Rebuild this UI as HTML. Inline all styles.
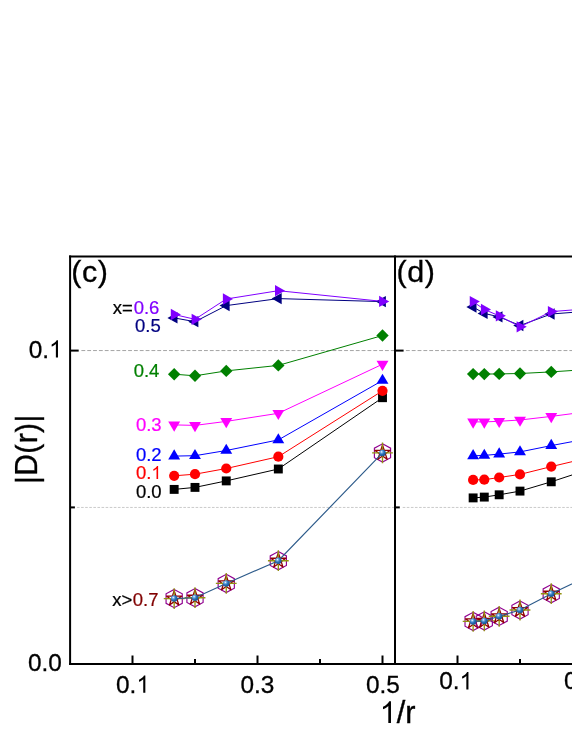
<!DOCTYPE html>
<html><head><meta charset="utf-8"><title>chart</title>
<style>html,body{margin:0;padding:0;background:#fff;}svg{display:block;will-change:transform;}text{font-family:"Liberation Sans",sans-serif;}</style>
</head><body>
<svg width="572" height="740" viewBox="0 0 572 740">
<defs>
<radialGradient id="sg" cx="0.36" cy="0.34" r="0.75"><stop offset="0" stop-color="#ffffff"/><stop offset="0.2" stop-color="#7db6ea"/><stop offset="0.5" stop-color="#2b73ba"/><stop offset="1" stop-color="#134a86"/></radialGradient>
<clipPath id="clip"><rect x="0" y="0" width="572" height="740"/></clipPath>
</defs>
<rect width="572" height="740" fill="#ffffff"/>
<path d="M81.4 350.55H394M405.9 350.55H572" stroke="#a0a0a0" stroke-width="0.95" stroke-dasharray="3.85 1.988" fill="none"/>
<path d="M77 507.45H394M402.7 507.45H572" stroke="#c4c4c4" stroke-width="0.9" stroke-dasharray="2.6 1.49" fill="none"/>
<polyline points="174.17,489.4 195,487.4 226.25,480.9 278.33,469 382.5,397.7" fill="none" stroke="#000000" stroke-width="1"/>
<rect x="169.72" y="484.95" width="8.9" height="8.9" fill="#000000"/>
<rect x="190.55" y="482.95" width="8.9" height="8.9" fill="#000000"/>
<rect x="221.8" y="476.45" width="8.9" height="8.9" fill="#000000"/>
<rect x="273.88" y="464.55" width="8.9" height="8.9" fill="#000000"/>
<rect x="378.05" y="393.25" width="8.9" height="8.9" fill="#000000"/>
<polyline points="473.12,497.9 484.29,497.1 499.17,494.8 520,491.1 551.25,481.8 603.33,464.7" fill="none" stroke="#000000" stroke-width="1"/>
<rect x="468.68" y="493.45" width="8.9" height="8.9" fill="#000000"/>
<rect x="479.84" y="492.65" width="8.9" height="8.9" fill="#000000"/>
<rect x="494.72" y="490.35" width="8.9" height="8.9" fill="#000000"/>
<rect x="515.55" y="486.65" width="8.9" height="8.9" fill="#000000"/>
<rect x="546.8" y="477.35" width="8.9" height="8.9" fill="#000000"/>
<rect x="598.88" y="460.25" width="8.9" height="8.9" fill="#000000"/>
<polyline points="174.17,475.8 195,474.2 226.25,468.5 278.33,456.7 382.5,390.8" fill="none" stroke="#ff0000" stroke-width="1"/>
<circle cx="174.17" cy="475.8" r="5.1" fill="#ff0000"/>
<circle cx="195" cy="474.2" r="5.1" fill="#ff0000"/>
<circle cx="226.25" cy="468.5" r="5.1" fill="#ff0000"/>
<circle cx="278.33" cy="456.7" r="5.1" fill="#ff0000"/>
<circle cx="382.5" cy="390.8" r="5.1" fill="#ff0000"/>
<polyline points="473.12,479.9 484.29,479.7 499.17,477.5 520,474.4 551.25,466.6 603.33,454.3" fill="none" stroke="#ff0000" stroke-width="1"/>
<circle cx="473.12" cy="479.9" r="5.1" fill="#ff0000"/>
<circle cx="484.29" cy="479.7" r="5.1" fill="#ff0000"/>
<circle cx="499.17" cy="477.5" r="5.1" fill="#ff0000"/>
<circle cx="520" cy="474.4" r="5.1" fill="#ff0000"/>
<circle cx="551.25" cy="466.6" r="5.1" fill="#ff0000"/>
<circle cx="603.33" cy="454.3" r="5.1" fill="#ff0000"/>
<polyline points="174.17,456.1 195,455.7 226.25,450.5 278.33,439.9 382.5,380.5" fill="none" stroke="#0000ff" stroke-width="1"/>
<polygon points="174.17,449.37 168.22,459.47 180.12,459.47" fill="#0000ff"/>
<polygon points="195,448.97 189.05,459.07 200.95,459.07" fill="#0000ff"/>
<polygon points="226.25,443.77 220.3,453.87 232.2,453.87" fill="#0000ff"/>
<polygon points="278.33,433.17 272.38,443.27 284.28,443.27" fill="#0000ff"/>
<polygon points="382.5,373.77 376.55,383.87 388.45,383.87" fill="#0000ff"/>
<polyline points="473.12,455.8 484.29,455.4 499.17,454.1 520,451.9 551.25,445.6 603.33,435.8" fill="none" stroke="#0000ff" stroke-width="1"/>
<polygon points="473.12,449.07 467.18,459.17 479.07,459.17" fill="#0000ff"/>
<polygon points="484.29,448.67 478.34,458.77 490.24,458.77" fill="#0000ff"/>
<polygon points="499.17,447.37 493.22,457.47 505.12,457.47" fill="#0000ff"/>
<polygon points="520,445.17 514.05,455.27 525.95,455.27" fill="#0000ff"/>
<polygon points="551.25,438.87 545.3,448.97 557.2,448.97" fill="#0000ff"/>
<polygon points="603.33,429.07 597.38,439.17 609.28,439.17" fill="#0000ff"/>
<polyline points="174.17,424.9 195,425.4 226.25,421.4 278.33,413.3 382.5,364.2" fill="none" stroke="#ff00ff" stroke-width="1"/>
<polygon points="174.17,431.63 168.22,421.53 180.12,421.53" fill="#ff00ff"/>
<polygon points="195,432.13 189.05,422.03 200.95,422.03" fill="#ff00ff"/>
<polygon points="226.25,428.13 220.3,418.03 232.2,418.03" fill="#ff00ff"/>
<polygon points="278.33,420.03 272.38,409.93 284.28,409.93" fill="#ff00ff"/>
<polygon points="382.5,370.93 376.55,360.83 388.45,360.83" fill="#ff00ff"/>
<polyline points="473.12,421.9 484.29,421.9 499.17,421.3 520,420 551.25,416.4 603.33,409.6" fill="none" stroke="#ff00ff" stroke-width="1"/>
<polygon points="473.12,428.63 467.18,418.53 479.07,418.53" fill="#ff00ff"/>
<polygon points="484.29,428.63 478.34,418.53 490.24,418.53" fill="#ff00ff"/>
<polygon points="499.17,428.03 493.22,417.93 505.12,417.93" fill="#ff00ff"/>
<polygon points="520,426.73 514.05,416.63 525.95,416.63" fill="#ff00ff"/>
<polygon points="551.25,423.13 545.3,413.03 557.2,413.03" fill="#ff00ff"/>
<polygon points="603.33,416.33 597.38,406.23 609.28,406.23" fill="#ff00ff"/>
<polyline points="174.17,374.2 195,375.8 226.25,370.9 278.33,365.4 382.5,335.5" fill="none" stroke="#008000" stroke-width="1"/>
<polygon points="174.17,368 180.37,374.2 174.17,380.4 167.97,374.2" fill="#008000"/>
<polygon points="195,369.6 201.2,375.8 195,382 188.8,375.8" fill="#008000"/>
<polygon points="226.25,364.7 232.45,370.9 226.25,377.1 220.05,370.9" fill="#008000"/>
<polygon points="278.33,359.2 284.53,365.4 278.33,371.6 272.13,365.4" fill="#008000"/>
<polygon points="382.5,329.3 388.7,335.5 382.5,341.7 376.3,335.5" fill="#008000"/>
<polyline points="473.12,374.1 484.29,374.1 499.17,373.9 520,373.5 551.25,371.9 603.33,368.4" fill="none" stroke="#008000" stroke-width="1"/>
<polygon points="473.12,367.9 479.32,374.1 473.12,380.3 466.93,374.1" fill="#008000"/>
<polygon points="484.29,367.9 490.49,374.1 484.29,380.3 478.09,374.1" fill="#008000"/>
<polygon points="499.17,367.7 505.37,373.9 499.17,380.1 492.97,373.9" fill="#008000"/>
<polygon points="520,367.3 526.2,373.5 520,379.7 513.8,373.5" fill="#008000"/>
<polygon points="551.25,365.7 557.45,371.9 551.25,378.1 545.05,371.9" fill="#008000"/>
<polygon points="603.33,362.2 609.53,368.4 603.33,374.6 597.13,368.4" fill="#008000"/>
<polyline points="174.17,317.9 195,321.7 226.25,305.6 278.33,298.6 382.5,301.6" fill="none" stroke="#000080" stroke-width="1"/>
<polygon points="167.43,317.9 177.53,312.25 177.53,323.55" fill="#000080"/>
<polygon points="188.27,321.7 198.37,316.05 198.37,327.35" fill="#000080"/>
<polygon points="219.52,305.6 229.62,299.95 229.62,311.25" fill="#000080"/>
<polygon points="271.6,298.6 281.7,292.95 281.7,304.25" fill="#000080"/>
<polygon points="375.77,301.6 385.87,295.95 385.87,307.25" fill="#000080"/>
<polyline points="473.12,307.1 484.29,313.4 499.17,316.9 520,325.5 551.25,314 603.33,310" fill="none" stroke="#000080" stroke-width="1"/>
<polygon points="466.39,307.1 476.49,301.45 476.49,312.75" fill="#000080"/>
<polygon points="477.55,313.4 487.65,307.75 487.65,319.05" fill="#000080"/>
<polygon points="492.43,316.9 502.53,311.25 502.53,322.55" fill="#000080"/>
<polygon points="513.27,325.5 523.37,319.85 523.37,331.15" fill="#000080"/>
<polygon points="544.52,314 554.62,308.35 554.62,319.65" fill="#000080"/>
<polygon points="596.6,310 606.7,304.35 606.7,315.65" fill="#000080"/>
<polyline points="174.17,314.5 195,319.3 226.25,299 278.33,290.7 382.5,301.4" fill="none" stroke="#8000ff" stroke-width="1"/>
<polygon points="180.9,314.5 170.8,308.85 170.8,320.15" fill="#8000ff"/>
<polygon points="201.73,319.3 191.63,313.65 191.63,324.95" fill="#8000ff"/>
<polygon points="232.98,299 222.88,293.35 222.88,304.65" fill="#8000ff"/>
<polygon points="285.07,290.7 274.97,285.05 274.97,296.35" fill="#8000ff"/>
<polygon points="389.23,301.4 379.13,295.75 379.13,307.05" fill="#8000ff"/>
<polyline points="473.12,301.6 484.29,309.5 499.17,315.8 520,326.8 551.25,311.6 603.33,307.6" fill="none" stroke="#8000ff" stroke-width="1"/>
<polygon points="479.86,301.6 469.76,295.95 469.76,307.25" fill="#8000ff"/>
<polygon points="491.02,309.5 480.92,303.85 480.92,315.15" fill="#8000ff"/>
<polygon points="505.9,315.8 495.8,310.15 495.8,321.45" fill="#8000ff"/>
<polygon points="526.73,326.8 516.63,321.15 516.63,332.45" fill="#8000ff"/>
<polygon points="557.98,311.6 547.88,305.95 547.88,317.25" fill="#8000ff"/>
<polygon points="610.07,307.6 599.97,301.95 599.97,313.25" fill="#8000ff"/>
<g transform="translate(174.17 598.6)"><polygon points="0,-9.1 8.1,-4.75 8.1,4.75 0,9.1 -8.1,4.75 -8.1,-4.75" fill="none" stroke="#900090" stroke-width="1.15"/><polygon points="0,-7.9 1.77,-2.44 7.51,-2.44 2.87,0.93 4.64,6.39 0,3.02 -4.64,6.39 -2.87,0.93 -7.51,-2.44 -1.77,-2.44" fill="none" stroke="#900000" stroke-width="1.3" stroke-linejoin="round"/><path d="M-10.4 0H10.4M0 -10.4V10.4" stroke="#929210" stroke-width="1.35" fill="none"/></g>
<g transform="translate(195 597.7)"><polygon points="0,-9.1 8.1,-4.75 8.1,4.75 0,9.1 -8.1,4.75 -8.1,-4.75" fill="none" stroke="#900090" stroke-width="1.15"/><polygon points="0,-7.9 1.77,-2.44 7.51,-2.44 2.87,0.93 4.64,6.39 0,3.02 -4.64,6.39 -2.87,0.93 -7.51,-2.44 -1.77,-2.44" fill="none" stroke="#900000" stroke-width="1.3" stroke-linejoin="round"/><path d="M-10.4 0H10.4M0 -10.4V10.4" stroke="#929210" stroke-width="1.35" fill="none"/></g>
<g transform="translate(226.25 583.4)"><polygon points="0,-9.1 8.1,-4.75 8.1,4.75 0,9.1 -8.1,4.75 -8.1,-4.75" fill="none" stroke="#900090" stroke-width="1.15"/><polygon points="0,-7.9 1.77,-2.44 7.51,-2.44 2.87,0.93 4.64,6.39 0,3.02 -4.64,6.39 -2.87,0.93 -7.51,-2.44 -1.77,-2.44" fill="none" stroke="#900000" stroke-width="1.3" stroke-linejoin="round"/><path d="M-10.4 0H10.4M0 -10.4V10.4" stroke="#929210" stroke-width="1.35" fill="none"/></g>
<g transform="translate(278.33 560.7)"><polygon points="0,-9.1 8.1,-4.75 8.1,4.75 0,9.1 -8.1,4.75 -8.1,-4.75" fill="none" stroke="#900090" stroke-width="1.15"/><polygon points="0,-7.9 1.77,-2.44 7.51,-2.44 2.87,0.93 4.64,6.39 0,3.02 -4.64,6.39 -2.87,0.93 -7.51,-2.44 -1.77,-2.44" fill="none" stroke="#900000" stroke-width="1.3" stroke-linejoin="round"/><path d="M-10.4 0H10.4M0 -10.4V10.4" stroke="#929210" stroke-width="1.35" fill="none"/></g>
<g transform="translate(382.5 452.9)"><polygon points="0,-9.1 8.1,-4.75 8.1,4.75 0,9.1 -8.1,4.75 -8.1,-4.75" fill="none" stroke="#900090" stroke-width="1.15"/><polygon points="0,-7.9 1.77,-2.44 7.51,-2.44 2.87,0.93 4.64,6.39 0,3.02 -4.64,6.39 -2.87,0.93 -7.51,-2.44 -1.77,-2.44" fill="none" stroke="#900000" stroke-width="1.3" stroke-linejoin="round"/><path d="M-10.4 0H10.4M0 -10.4V10.4" stroke="#929210" stroke-width="1.35" fill="none"/></g>
<polyline points="174.17,598.6 195,597.7 226.25,583.4 278.33,560.7 382.5,452.9" fill="none" stroke="#2c5a8a" stroke-width="1.15"/>
<circle cx="174.17" cy="598.6" r="3.25" fill="url(#sg)"/>
<circle cx="195" cy="597.7" r="3.25" fill="url(#sg)"/>
<circle cx="226.25" cy="583.4" r="3.25" fill="url(#sg)"/>
<circle cx="278.33" cy="560.7" r="3.25" fill="url(#sg)"/>
<circle cx="382.5" cy="452.9" r="3.25" fill="url(#sg)"/>
<g transform="translate(473.12 621.4)"><polygon points="0,-9.1 8.1,-4.75 8.1,4.75 0,9.1 -8.1,4.75 -8.1,-4.75" fill="none" stroke="#900090" stroke-width="1.15"/><polygon points="0,-7.9 1.77,-2.44 7.51,-2.44 2.87,0.93 4.64,6.39 0,3.02 -4.64,6.39 -2.87,0.93 -7.51,-2.44 -1.77,-2.44" fill="none" stroke="#900000" stroke-width="1.3" stroke-linejoin="round"/><path d="M-10.4 0H10.4M0 -10.4V10.4" stroke="#929210" stroke-width="1.35" fill="none"/></g>
<g transform="translate(484.29 620.9)"><polygon points="0,-9.1 8.1,-4.75 8.1,4.75 0,9.1 -8.1,4.75 -8.1,-4.75" fill="none" stroke="#900090" stroke-width="1.15"/><polygon points="0,-7.9 1.77,-2.44 7.51,-2.44 2.87,0.93 4.64,6.39 0,3.02 -4.64,6.39 -2.87,0.93 -7.51,-2.44 -1.77,-2.44" fill="none" stroke="#900000" stroke-width="1.3" stroke-linejoin="round"/><path d="M-10.4 0H10.4M0 -10.4V10.4" stroke="#929210" stroke-width="1.35" fill="none"/></g>
<g transform="translate(499.17 616.3)"><polygon points="0,-9.1 8.1,-4.75 8.1,4.75 0,9.1 -8.1,4.75 -8.1,-4.75" fill="none" stroke="#900090" stroke-width="1.15"/><polygon points="0,-7.9 1.77,-2.44 7.51,-2.44 2.87,0.93 4.64,6.39 0,3.02 -4.64,6.39 -2.87,0.93 -7.51,-2.44 -1.77,-2.44" fill="none" stroke="#900000" stroke-width="1.3" stroke-linejoin="round"/><path d="M-10.4 0H10.4M0 -10.4V10.4" stroke="#929210" stroke-width="1.35" fill="none"/></g>
<g transform="translate(520 610)"><polygon points="0,-9.1 8.1,-4.75 8.1,4.75 0,9.1 -8.1,4.75 -8.1,-4.75" fill="none" stroke="#900090" stroke-width="1.15"/><polygon points="0,-7.9 1.77,-2.44 7.51,-2.44 2.87,0.93 4.64,6.39 0,3.02 -4.64,6.39 -2.87,0.93 -7.51,-2.44 -1.77,-2.44" fill="none" stroke="#900000" stroke-width="1.3" stroke-linejoin="round"/><path d="M-10.4 0H10.4M0 -10.4V10.4" stroke="#929210" stroke-width="1.35" fill="none"/></g>
<g transform="translate(551.25 593.7)"><polygon points="0,-9.1 8.1,-4.75 8.1,4.75 0,9.1 -8.1,4.75 -8.1,-4.75" fill="none" stroke="#900090" stroke-width="1.15"/><polygon points="0,-7.9 1.77,-2.44 7.51,-2.44 2.87,0.93 4.64,6.39 0,3.02 -4.64,6.39 -2.87,0.93 -7.51,-2.44 -1.77,-2.44" fill="none" stroke="#900000" stroke-width="1.3" stroke-linejoin="round"/><path d="M-10.4 0H10.4M0 -10.4V10.4" stroke="#929210" stroke-width="1.35" fill="none"/></g>
<g transform="translate(603.33 569.1)"><polygon points="0,-9.1 8.1,-4.75 8.1,4.75 0,9.1 -8.1,4.75 -8.1,-4.75" fill="none" stroke="#900090" stroke-width="1.15"/><polygon points="0,-7.9 1.77,-2.44 7.51,-2.44 2.87,0.93 4.64,6.39 0,3.02 -4.64,6.39 -2.87,0.93 -7.51,-2.44 -1.77,-2.44" fill="none" stroke="#900000" stroke-width="1.3" stroke-linejoin="round"/><path d="M-10.4 0H10.4M0 -10.4V10.4" stroke="#929210" stroke-width="1.35" fill="none"/></g>
<polyline points="473.12,621.4 484.29,620.9 499.17,616.3 520,610 551.25,593.7 603.33,569.1" fill="none" stroke="#2c5a8a" stroke-width="1.15"/>
<circle cx="473.12" cy="621.4" r="3.25" fill="url(#sg)"/>
<circle cx="484.29" cy="620.9" r="3.25" fill="url(#sg)"/>
<circle cx="499.17" cy="616.3" r="3.25" fill="url(#sg)"/>
<circle cx="520" cy="610" r="3.25" fill="url(#sg)"/>
<circle cx="551.25" cy="593.7" r="3.25" fill="url(#sg)"/>
<circle cx="603.33" cy="569.1" r="3.25" fill="url(#sg)"/>
<g stroke="#000" stroke-width="2" fill="none">
<path d="M70.1 255.6V665"/>
<path d="M395 255.6V665"/>
<path d="M69.1 256.5H572"/>
<path d="M69.1 664.1H572"/>
<path d="M70.1 350.6h8.6"/>
<path d="M70.1 507.4h4.8"/>
<path d="M395 350.6h8.6"/>
<path d="M395 507.4h4.8"/>
<path d="M132.5 664.1v-8.6"/>
<path d="M195 664.1v-5.2"/>
<path d="M257.5 664.1v-8.6"/>
<path d="M320 664.1v-5.2"/>
<path d="M382.5 664.1v-8.6"/>
<path d="M457.5 664.1v-8.6"/>
<path d="M520 664.1v-5.2"/>
</g>
<text transform="translate(71.3 281.5) scale(1.045 1)" font-size="29.2" letter-spacing="0.5" fill="#000" stroke="#000" stroke-width="0.3">(c)</text>
<text transform="translate(396.6 282.3) scale(1.045 1)" font-size="29.2" letter-spacing="0.5" fill="#000" stroke="#000" stroke-width="0.3">(d)</text>
<text x="28.68" y="357.5" font-size="24.4" fill="#000000" stroke="#000000" stroke-width="0.29">0.</text>
<path transform="translate(49.03 357.5) scale(0.01174 -0.01174)" d="M763 0H583V1147Q518 1085 412.5 1023T223 930V1104Q374 1175 487 1276T647 1472H763Z" fill="#000000"/>
<text x="61.8" y="670.6" font-size="24.4" fill="#000000" stroke="#000000" stroke-width="0.29" text-anchor="end">0.0</text>
<text x="116.04" y="692.75" font-size="24.4" fill="#000000" stroke="#000000" stroke-width="0.29">0.</text>
<path transform="translate(136.39 692.75) scale(0.01174 -0.01174)" d="M763 0H583V1147Q518 1085 412.5 1023T223 930V1104Q374 1175 487 1276T647 1472H763Z" fill="#000000"/>
<text x="257.4" y="692.75" font-size="24.4" fill="#000000" stroke="#000000" stroke-width="0.29" text-anchor="middle">0.3</text>
<text x="382.9" y="692.75" font-size="24.4" fill="#000000" stroke="#000000" stroke-width="0.29" text-anchor="middle">0.5</text>
<text x="439.14" y="689.4" font-size="24.4" fill="#000000" stroke="#000000" stroke-width="0.29">0.</text>
<path transform="translate(459.49 689.4) scale(0.01174 -0.01174)" d="M763 0H583V1147Q518 1085 412.5 1023T223 930V1104Q374 1175 487 1276T647 1472H763Z" fill="#000000"/>
<text x="581" y="689.4" font-size="24.4" fill="#000000" stroke="#000000" stroke-width="0.29" text-anchor="middle">0.3</text>
<path transform="translate(379.7 723) scale(0.01477 -0.01477)" d="M763 0H583V1147Q518 1085 412.5 1023T223 930V1104Q374 1175 487 1276T647 1472H763Z" fill="#000000"/>
<text x="396.77" y="723" font-size="30.7" fill="#000000" stroke="#000000" stroke-width="0.37">/r</text>
<clipPath id="yl"><rect x="14.75" y="400" width="40" height="100"/></clipPath>
<g clip-path="url(#yl)"><text transform="translate(37 484.1) rotate(-90) scale(0.96 1)" font-size="31.2" letter-spacing="0.47" fill="#000" stroke="#000" stroke-width="0.36">|D(r)|</text></g>
<text x="112.8" y="314.1" font-size="18.5" fill="#000000" stroke="#000000" stroke-width="0.22">x=</text>
<text x="133.7" y="314.1" font-size="18.5" fill="#8000ff" stroke="#8000ff" stroke-width="0.22">0.6</text>
<text x="135" y="332.1" font-size="18.5" fill="#000080" stroke="#000080" stroke-width="0.22">0.5</text>
<text x="133.7" y="377" font-size="18.5" fill="#008000" stroke="#008000" stroke-width="0.22">0.4</text>
<text x="135.9" y="430.5" font-size="18.5" fill="#ff00ff" stroke="#ff00ff" stroke-width="0.22">0.3</text>
<text x="135.9" y="461.4" font-size="18.5" fill="#0000ff" stroke="#0000ff" stroke-width="0.22">0.2</text>
<text x="135.9" y="479" font-size="18.5" fill="#ff0000" stroke="#ff0000" stroke-width="0.22">0.</text>
<path transform="translate(151.33 479) scale(0.00890 -0.00890)" d="M763 0H583V1147Q518 1085 412.5 1023T223 930V1104Q374 1175 487 1276T647 1472H763Z" fill="#ff0000"/>
<text x="135.9" y="498.2" font-size="18.5" fill="#000000" stroke="#000000" stroke-width="0.22">0.0</text>
<text x="112.3" y="606.2" font-size="18.5" fill="#000000" stroke="#000000" stroke-width="0.22">x&gt;</text>
<text x="132.8" y="606.2" font-size="18.5" fill="#800000" stroke="#800000" stroke-width="0.22">0.7</text>
</svg>
</body></html>
